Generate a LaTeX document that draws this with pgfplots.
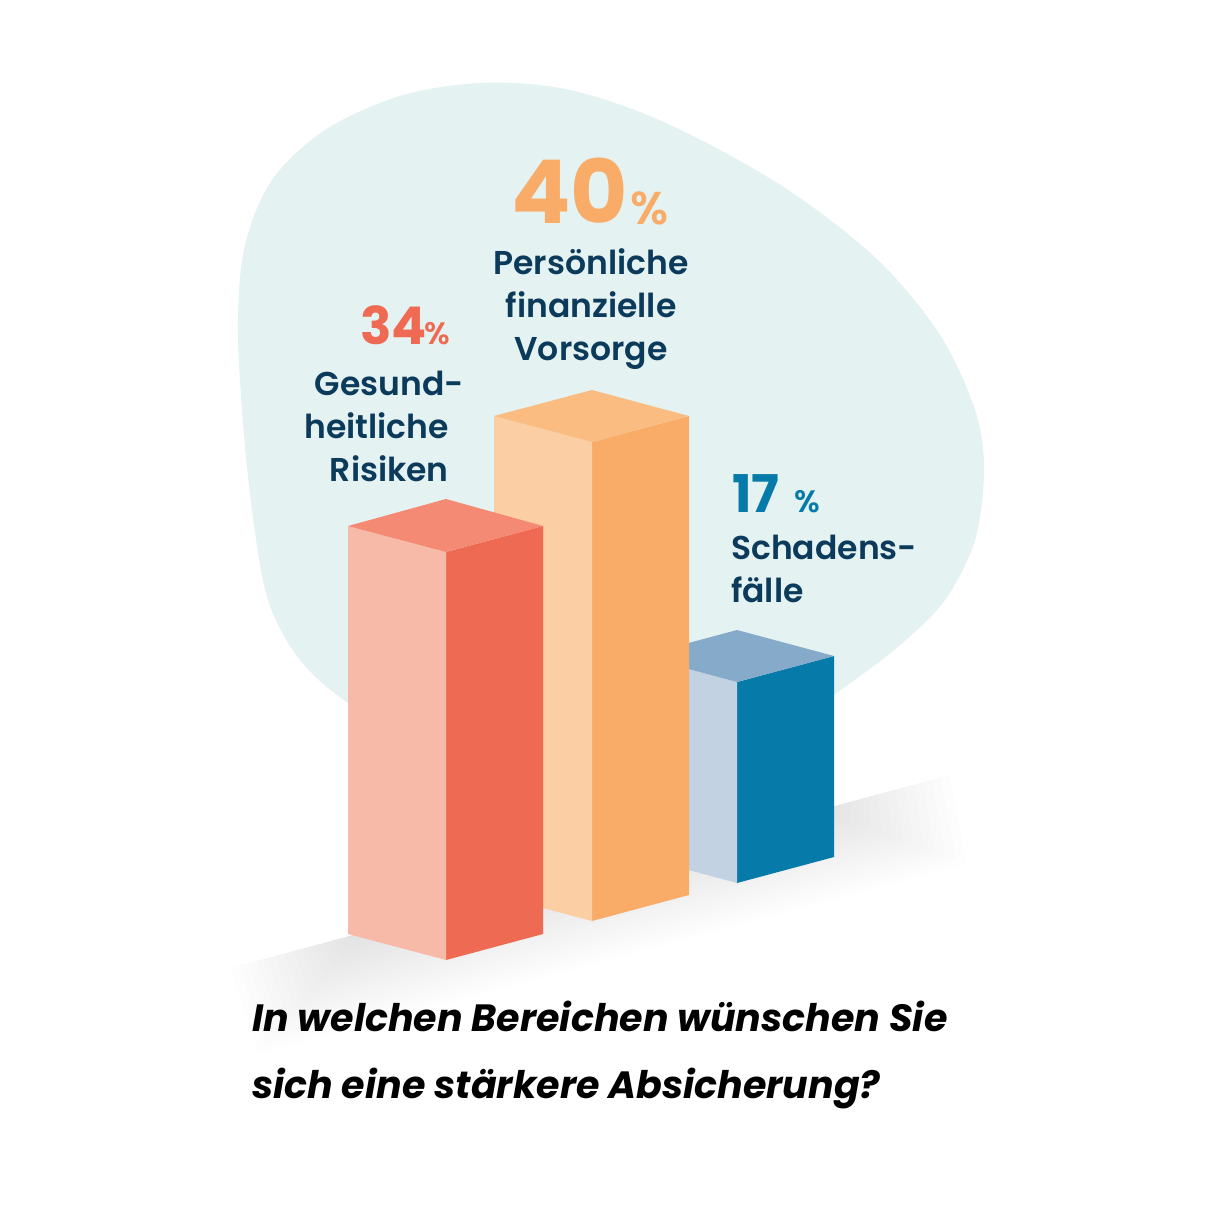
\documentclass[border=0pt]{standalone}
\usepackage{fontspec}
\usepackage{pgfplots}
\pgfplotsset{compat=1.18}
\setmainfont{Poppins}
\newfontfamily\lab{Poppins}[UprightFont=* SemiBold, BoldFont=* Bold]
\definecolor{blob}{HTML}{E4F2F1}
\definecolor{redR}{HTML}{EF6A53}\definecolor{redL}{HTML}{F7BAA8}\definecolor{redT}{HTML}{F48A73}
\definecolor{orR}{HTML}{F9AC68}\definecolor{orL}{HTML}{FBCEA4}\definecolor{orT}{HTML}{FBBC82}
\definecolor{blR}{HTML}{067BA9}\definecolor{blL}{HTML}{C2D2E3}\definecolor{blT}{HTML}{86AAC9}
\definecolor{navy}{HTML}{0C3A5B}
\begin{document}
\begin{tikzpicture}
\begin{axis}[scale only axis,width=1205pt,height=1205pt,xmin=0,xmax=1205,ymin=0,ymax=1205,
  y dir=reverse,hide axis,clip=false]
\addplot[fill=white,draw=none] coordinates {(0,0)(1205,0)(1205,1205)(0,1205)} --cycle;
% blob
\addplot[fill=blob,draw=none,smooth,tension=0.55] coordinates {
(600,800)(420,745)(348,703)(300,660)(268,600)(252,510)(242,410)(238,320)(245,245)(272,180)(325,130)(400,96)(480,83)(560,88)(640,112)(720,150)(800,198)(880,262)(940,335)(975,410)(984,470)(975,540)(945,600)(900,645)(838,692)(700,790)(600,800)} --cycle;
% shadow
\foreach \i in {0,...,13}{
  \pgfmathsetmacro\ax{230+9*\i}\pgfmathsetmacro\ay{968-2.41*\i}
  \pgfmathsetmacro\bx{950-9*\i}\pgfmathsetmacro\by{775+2.41*\i}
  \pgfmathsetmacro\ddx{(14-\i)*1.6}\pgfmathsetmacro\ddy{(14-\i)*6.2}
  \pgfmathsetmacro\cx{\bx+\ddx-6}\pgfmathsetmacro\cy{\by+\ddy+1.6}
  \pgfmathsetmacro\dx{\ax+\ddx+6}\pgfmathsetmacro\dy{\ay+\ddy-1.6}
  \edef\temp{\noexpand\addplot[fill=black,fill opacity=0.0065,draw=none] coordinates {(\ax,\ay)(\bx,\by)(\cx,\cy)(\dx,\dy)} --cycle;}
  \temp
}
% blue bar 17
\addplot[fill=blR,draw=none] coordinates {(737,682)(834,656)(834,857)(737,883)} --cycle;
\addplot[fill=blL,draw=none] coordinates {(640,656)(737,682)(737,883)(640,857)} --cycle;
\addplot[fill=blT,draw=none] coordinates {(640,656)(737,630)(834,656)(737,682)} --cycle;
% orange bar 40
\addplot[fill=orR,draw=none] coordinates {(592,442)(689,416)(689,895)(592,921)} --cycle;
\addplot[fill=orL,draw=none] coordinates {(494,416)(592,442)(592,921)(494,895)} --cycle;
\addplot[fill=orT,draw=none] coordinates {(494,416)(592,390)(689,416)(592,442)} --cycle;
% red bar 34
\addplot[fill=redR,draw=none] coordinates {(446,552)(543,526)(543,934)(446,960)} --cycle;
\addplot[fill=redL,draw=none] coordinates {(348,526)(446,552)(446,960)(348,934)} --cycle;
\addplot[fill=redT,draw=none] coordinates {(348,526)(446,499)(543,526)(446,552)} --cycle;
% labels
\newcommand{\lb}[4]{\node[anchor=#1,inner sep=0pt,text=navy,font=\lab\fontsize{33}{33}\selectfont] at (axis cs:#2,#3) {#4};}
\lb{base}{591}{274}{Persönliche}
\lb{base}{591}{317}{finanzielle}
\lb{base}{591}{360}{Vorsorge}
\lb{base east}{464}{395}{Gesund-}
\lb{base east}{449}{438}{heitliche}
\lb{base east}{449}{481}{Risiken}
\lb{base west}{731}{559}{Schadens-}
\lb{base west}{731}{602}{fälle}
\node[anchor=base west,inner sep=0pt,text=orR,font=\lab\bfseries\fontsize{88}{88}\selectfont] at (axis cs:511,223) {40};
\node[anchor=base west,inner sep=0pt,text=orR,font=\lab\fontsize{46}{46}\selectfont] at (axis cs:630,224) {\%};
\node[anchor=base west,inner sep=0pt,text=redR,font=\lab\bfseries\fontsize{52}{52}\selectfont] at (axis cs:360,344) {34};
\node[anchor=base west,inner sep=0pt,text=redR,font=\lab\fontsize{31}{31}\selectfont] at (axis cs:424,344) {\%};
\node[anchor=base west,inner sep=0pt,text=blR,font=\lab\bfseries\fontsize{52}{52}\selectfont] at (axis cs:732,512) {17};
\node[anchor=base west,inner sep=0pt,text=blR,font=\lab\fontsize{31}{31}\selectfont] at (axis cs:794,512) {\%};
\node[anchor=base west,inner sep=0pt,text=black,font=\bfseries\itshape\fontsize{38}{38}\selectfont] at (axis cs:252,1031) {In welchen Bereichen wünschen Sie};
\node[anchor=base west,inner sep=0pt,text=black,font=\bfseries\itshape\fontsize{38}{38}\selectfont] at (axis cs:252,1098) {sich eine stärkere Absicherung?};
\end{axis}
\end{tikzpicture}
\end{document}
